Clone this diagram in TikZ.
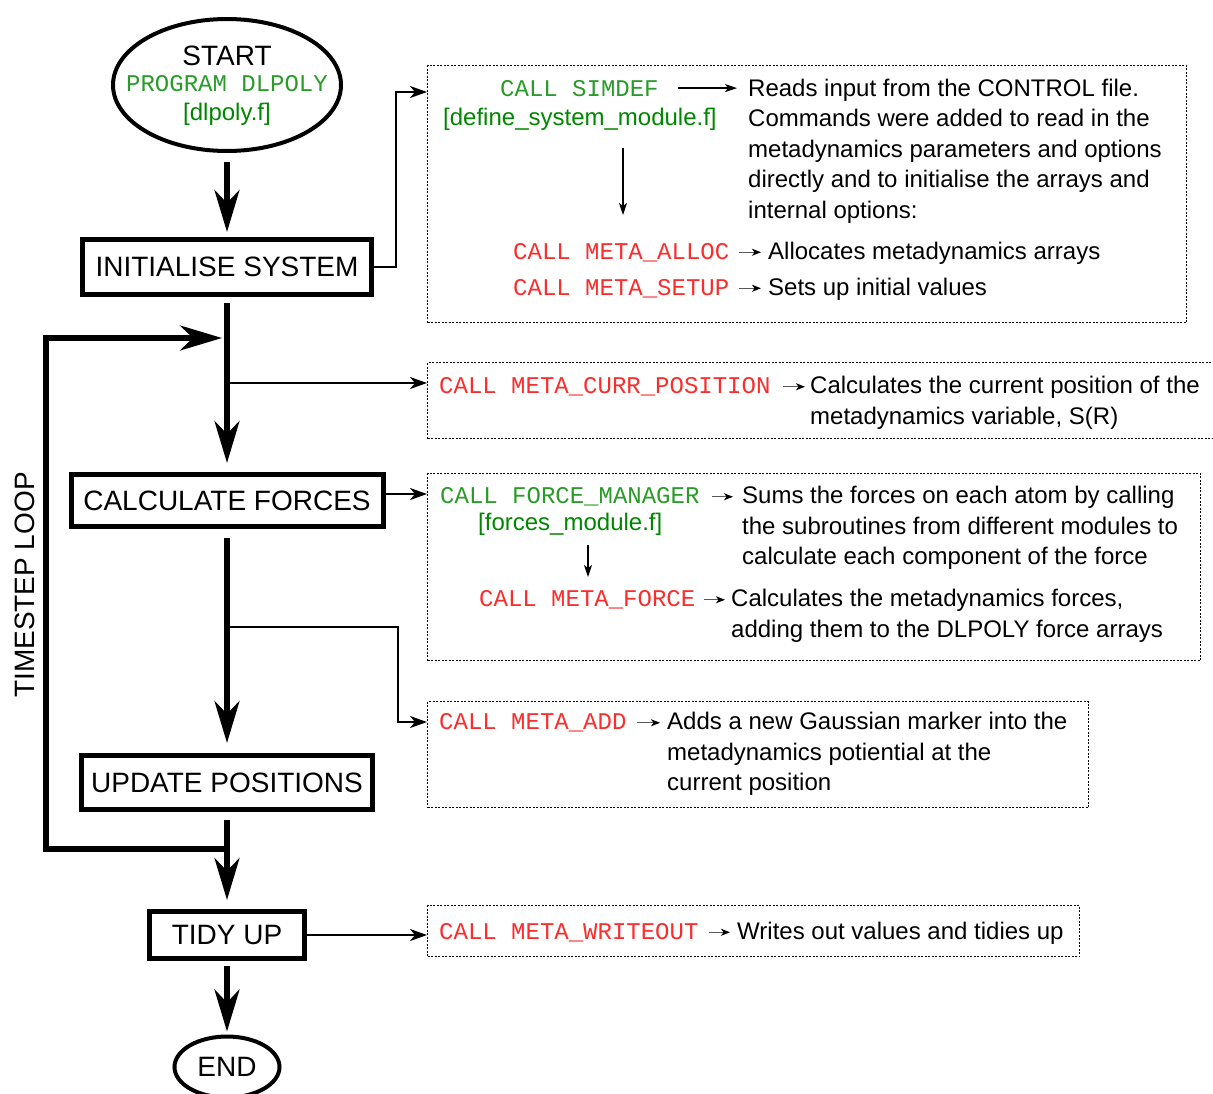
\documentclass[tikz,border=0pt]{standalone}
\usepackage{fontspec}
\setmainfont{Liberation Sans}
\setmonofont{Liberation Mono}
\usetikzlibrary{arrows.meta,shapes.geometric}
\definecolor{codegreen}{RGB}{0,135,0}
\definecolor{monogreen}{RGB}{40,155,40}
\definecolor{codered}{RGB}{250,45,45}
\newcommand{\mydesc}[1]{\parbox[t]{480pt}{\raggedright\fontsize{24}{30.5}\selectfont #1}}
\begin{document}
\begin{tikzpicture}[x=1pt,y=-1pt,
  mainbox/.style={draw, line width=5pt, rectangle, inner sep=0pt, font=\fontsize{28}{32}\selectfont},
  termin/.style={draw, line width=4pt, ellipse, inner sep=0pt},
  dotbox/.style={draw, line width=1pt, dash pattern=on 2pt off 1.5pt, rectangle, anchor=north west, inner sep=0pt},
  bigarrow/.style={line width=5.5pt, -{Stealth[length=42pt,width=25pt,inset=13pt]}},
  medarrow/.style={line width=2pt, -{Stealth[length=17pt,width=12pt,inset=5pt]}},
  thinarrow/.style={line width=1.3pt, -{Stealth[length=12pt,width=8pt,inset=3pt]}},
  smallarrow/.style={line width=1.3pt, draw=black!65, -{Stealth[length=9pt,width=7pt,inset=2.5pt,color=black]}},
  txt/.style={anchor=base west, inner sep=0pt, font=\fontsize{24}{30.5}\selectfont},
  code/.style={anchor=base west, inner sep=0pt, font=\fontsize{24}{30.5}\selectfont\ttfamily},
]
\useasboundingbox (0,0) rectangle (1213,1093);

% ---- main flow ----
\node[termin, minimum width=228pt, minimum height=132pt] (start) at (227,85) {};
\node[anchor=base, inner sep=0pt, font=\fontsize{28}{30}\selectfont] (starttxt) at (227,65) {START};
\node[anchor=base, inner sep=0pt, font=\fontsize{24}{30}\selectfont\ttfamily, text=monogreen] (prog) at (227,91) {PROGRAM DLPOLY};
\node[anchor=base, inner sep=0pt, font=\fontsize{24}{30}\selectfont, text=codegreen] (file0) at (227,120.5) {[dlpoly.f]};

\node[mainbox, minimum width=289pt, minimum height=55pt] (init) at (227,267) {INITIALISE SYSTEM};
\node[mainbox, minimum width=312pt, minimum height=52pt] (calc) at (227,500.5) {CALCULATE FORCES};
\node[mainbox, minimum width=291pt, minimum height=54pt] (update) at (227,782.5) {UPDATE POSITIONS};
\node[mainbox, minimum width=155pt, minimum height=47pt] (tidy) at (227,935) {TIDY UP};
\node[termin, minimum width=105pt, minimum height=61pt, font=\fontsize{28}{30}\selectfont] (end) at (227,1067) {END};

\node[rotate=90, inner sep=0pt, font=\fontsize{28}{30}\selectfont] (tl) at (25,585) {TIMESTEP LOOP};

\coordinate (loopin) at (227,338);
\coordinate (loopout) at (227,849);
\coordinate (loopL) at (46,338);
\coordinate (j1) at (227,383);
\coordinate (j2) at (227,627);
\coordinate (k4) at (398,627);

\draw[bigarrow, shorten <=9pt, shorten >=5pt] (start) -- (init);
\draw[bigarrow, shorten <=6pt, shorten >=9pt] (init) -- (calc);
\draw[bigarrow, shorten <=9pt, shorten >=10pt] (calc) -- (update);
\draw[bigarrow, shorten <=8pt, shorten >=9pt] (update) -- (tidy);
\draw[bigarrow, shorten <=5pt, shorten >=3pt] (tidy) -- (end);
\draw[bigarrow, shorten >=5pt] (loopout) -| (loopL) -- (loopin);

% ---- dotted boxes ----
\node[dotbox, minimum width=759pt, minimum height=257pt] (b1) at (427,65) {};
\node[dotbox, minimum width=800pt, minimum height=76pt] (b2) at (427,362) {};
\node[dotbox, minimum width=773pt, minimum height=187pt] (b3) at (427,473) {};
\node[dotbox, minimum width=661pt, minimum height=106pt] (b4) at (427,701) {};
\node[dotbox, minimum width=652pt, minimum height=51pt] (b5) at (427,905) {};

\coordinate (c1) at (427,92);
\coordinate (c3) at (427,494);
\coordinate (c4) at (427,722);

\draw[medarrow] (init.east) -- ++(22,0) |- (c1);
\draw[medarrow] (j1) -- (b2.west |- j1);
\draw[medarrow] (calc.east |- c3) -- (c3);
\draw[medarrow] (j2) -- (k4) |- (c4);
\draw[medarrow] (tidy.east) -- (tidy.east -| b5.west);

% ---- box 1 ----
\node[code, text=monogreen] (simdef) at (500,96) {CALL SIMDEF};
\node[txt, text=codegreen] (dsm) at (443,125) {[define\_system\_module.f]};
\node[txt] (d1) at (748,96) {\mydesc{Reads input from the CONTROL file.\\Commands were added to read in the\\metadynamics parameters and options\\directly and to initialise the arrays and\\internal options:}};
\draw[thinarrow, shorten <=19pt, shorten >=11pt] (simdef.east) -- (simdef.east -| d1.west);
\coordinate (v1a) at (623,148);
\coordinate (v1b) at (623,215);
\draw[thinarrow] (v1a) -- (v1b);
\node[code, text=codered] (alloc) at (513,259) {CALL META\_ALLOC};
\node[txt] (alloct) at (768,259) {Allocates metadynamics arrays};
\draw[smallarrow, shorten <=10pt, shorten >=7pt] (alloc.east) -- (alloc.east -| alloct.west);
\node[code, text=codered] (setup) at (513,295) {CALL META\_SETUP};
\node[txt] (setupt) at (768,295) {Sets up initial values};
\draw[smallarrow, shorten <=10pt, shorten >=7pt] (setup.east) -- (setup.east -| setupt.west);

% ---- box 2 ----
\node[code, text=codered] (curr) at (439,393.5) {CALL META\_CURR\_POSITION};
\node[txt] (currt) at (810,393.5) {\mydesc{Calculates the current position of the\\metadynamics variable, S(R)}};
\draw[smallarrow, shorten <=12pt, shorten >=5pt] (curr.east) -- (curr.east -| currt.west);

% ---- box 3 ----
\node[code, text=monogreen] (fm) at (440,503.5) {CALL FORCE\_MANAGER};
\node[txt, text=codegreen] (fmf) at (478,530) {[forces\_module.f]};
\node[txt] (fmt) at (742,503.5) {\mydesc{Sums the forces on each atom by calling\\the subroutines from different modules to\\calculate each component of the force}};
\draw[smallarrow, shorten <=12pt, shorten >=9pt] (fm.east) -- (fm.east -| fmt.west);
\coordinate (v3a) at (588,545);
\coordinate (v3b) at (588,577);
\draw[thinarrow] (v3a) -- (v3b);
\node[code, text=codered] (mf) at (479,606.5) {CALL META\_FORCE};
\node[txt] (mft) at (731,606.5) {\mydesc{Calculates the metadynamics forces,\\adding them to the DLPOLY force arrays}};
\draw[smallarrow, shorten <=9pt, shorten >=6pt] (mf.east) -- (mf.east -| mft.west);

% ---- box 4 ----
\node[code, text=codered] (add) at (439,729.5) {CALL META\_ADD};
\node[txt] (addt) at (667,729.5) {\mydesc{Adds a new Gaussian marker into the\\metadynamics potiential at the\\current position}};
\draw[smallarrow, shorten <=10pt, shorten >=7pt] (add.east) -- (add.east -| addt.west);

% ---- box 5 ----
\node[code, text=codered] (wo) at (439,939) {CALL META\_WRITEOUT};
\node[txt] (wot) at (737,939) {Writes out values and tidies up};
\draw[smallarrow, shorten <=10pt, shorten >=7pt] (wo.east) -- (wo.east -| wot.west);
\end{tikzpicture}
\end{document}
